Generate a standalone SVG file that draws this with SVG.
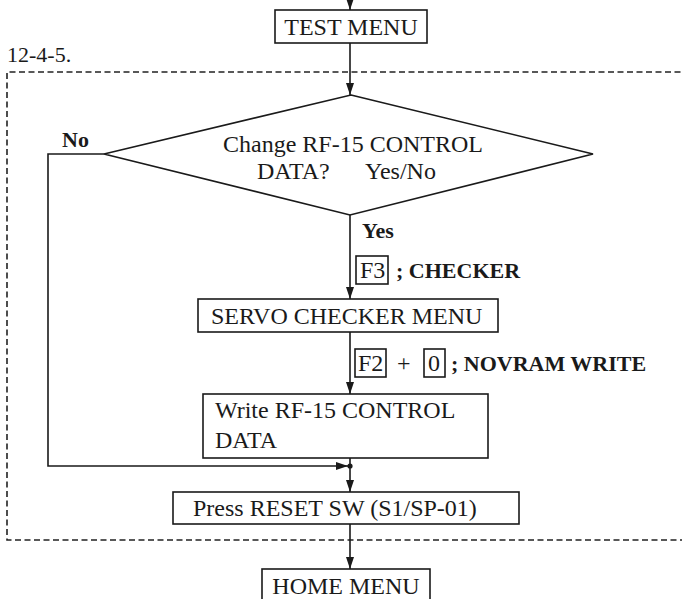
<svg xmlns="http://www.w3.org/2000/svg" width="682" height="599" viewBox="0 0 682 599">
<style>
  .bg{fill:#ffffff}
  .box{fill:none;stroke:#1a1a1a;stroke-width:1.6}
  .ln{fill:none;stroke:#1a1a1a;stroke-width:1.6}
  .dash{fill:none;stroke:#222;stroke-width:1.6;stroke-dasharray:6 3.5}
  text{font-family:"Liberation Serif","Times New Roman",serif;fill:#1a1a1a}
  .t{font-size:24px}
  .tc{font-size:24px;text-anchor:middle}
  .b{font-size:22px;font-weight:bold}
  .lbl{font-size:22px}
</style>
<defs>
  <marker id="ah" viewBox="0 0 12 8" refX="12" refY="4" markerWidth="12" markerHeight="8" markerUnits="userSpaceOnUse" orient="auto">
    <path d="M0,0 L12,4 L0,8 Z" fill="#1a1a1a"/>
  </marker>
</defs>
<rect class="bg" x="0" y="0" width="682" height="599"/>

<text class="lbl" x="7" y="62">12-4-5.</text>
<path id="frame" class="dash" d="M690 72 H7 V540 H690"/>

<g id="connectors">
  <line class="ln" x1="350" y1="0" x2="350" y2="10" marker-end="url(#ah)"/>
  <line class="ln" x1="350" y1="43" x2="350" y2="95" marker-end="url(#ah)"/>
  <line class="ln" x1="350" y1="215" x2="350" y2="299" marker-end="url(#ah)"/>
  <line class="ln" x1="350" y1="332" x2="350" y2="394" marker-end="url(#ah)"/>
  <line class="ln" x1="350" y1="458" x2="350" y2="492" marker-end="url(#ah)"/>
  <polyline class="ln" points="104,154 48,154 48,466 348,466" marker-end="url(#ah)"/>
  <circle cx="350" cy="466" r="2.6" fill="#1a1a1a"/>
  <line class="ln" x1="350" y1="524" x2="350" y2="569" marker-end="url(#ah)"/>
  <text class="b" x="62" y="147">No</text>
  <text class="b" x="362" y="238">Yes</text>
  <rect class="box" x="356" y="256" width="32" height="28"/>
  <text class="t" x="360" y="278">F3</text>
  <text class="b" x="396" y="278">; CHECKER</text>
  <rect class="box" x="355" y="349" width="31" height="28"/>
  <text class="t" x="358" y="371">F2</text>
  <text class="t" x="397" y="371">+</text>
  <rect class="box" x="424" y="349" width="21" height="28"/>
  <text class="t" x="428" y="371">0</text>
  <text class="b" x="451" y="371">; NOVRAM WRITE</text>
</g>

<g id="test-menu">
  <rect class="box" x="275" y="10" width="152" height="33"/>
  <text class="tc" x="351" y="35">TEST MENU</text>
</g>

<g id="decision">
  <polygon class="box" points="351,95 593,154 350,215 104,154"/>
  <text class="t" x="223" y="152">Change RF-15 CONTROL</text>
  <text class="t" x="257" y="179">DATA?</text>
  <text class="t" x="365" y="179">Yes/No</text>
</g>

<g id="servo-checker-menu">
  <rect class="box" x="198" y="299" width="300" height="33"/>
  <text class="t" x="211" y="324">SERVO CHECKER MENU</text>
</g>

<g id="write-data">
  <rect class="box" x="203" y="394" width="285" height="64"/>
  <text class="t" x="215" y="418">Write RF-15 CONTROL</text>
  <text class="t" x="215" y="448">DATA</text>
</g>

<g id="press-reset">
  <rect class="box" x="173" y="492" width="346" height="32"/>
  <text class="t" x="193" y="516">Press RESET SW (S1/SP-01)</text>
</g>

<g id="home-menu">
  <rect class="box" x="262" y="569" width="168" height="40"/>
  <text class="tc" x="346" y="594">HOME MENU</text>
</g>
</svg>
